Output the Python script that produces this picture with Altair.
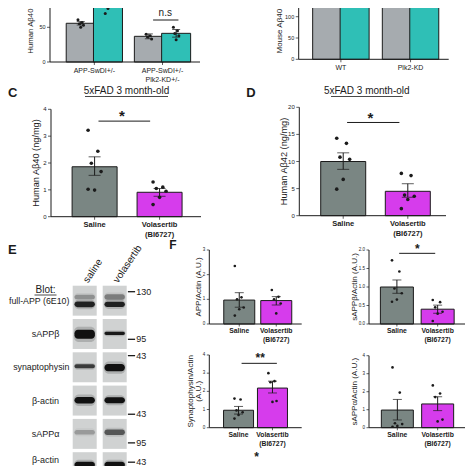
import altair as alt
import pandas as pd

M = 8            # page margin: reference pixel -> view pixel
W = H = 458
FONT = "Liberation Sans"
INK = "#1b1b1b"
GRAY_AB = "#a6abaf"
TEAL_AB = "#2fbfb6"
GRAY_CF = "#7a8683"
MAG = "#d63cec"
BOX = "#d0d2d2"

# ---------------- data ----------------
A_cats = ["APP-SwDI+/-", "APP-SwDI+/-\nPlk2-KD+/-"]
A_gray_mean = [55.8, 37.0]
A_gray_sem = [2.5, 3.5]
A_gray_pts = [[61, 57, 55, 53, 50], [40, 38, 36, 33]]
A_teal_mean = [105.0, 41.3]
A_teal_sem = [11.0, 5.5]
A_teal_pts = [[148, 130, 120, 85, 77, 70], [50, 45, 41, 38, 32]]

B_cats = ["WT", "Plk2-KD"]
B_gray_mean = [165.0, 150.0]
B_gray_sem = [15.0, 18.0]
B_teal_mean = [168.0, 160.0]
B_teal_sem = [14.0, 15.0]

TREAT = ["Saline", "Volasertib\n(BI6727)"]

C_mean = [1.86, 0.91]
C_lo = [1.54, 0.76]
C_hi = [2.23, 1.05]
C_pts = [[3.22, 2.44, 1.99, 1.68, 0.99, 1.02], [1.29, 1.10, 1.05, 0.95, 0.72, 0.45]]

D_mean = [10.0, 4.5]
D_lo = [8.55, 3.4]
D_hi = [11.6, 5.9]
D_pts = [[14.3, 13.35, 10.8, 10.4, 6.7, 4.9], [7.8, 7.4, 3.8, 3.6, 3.0, 1.3]]

F1_mean = [0.97, 0.95]
F1_lo = [0.68, 0.77]
F1_hi = [1.27, 1.11]
F1_pts = [[2.35, 1.08, 1.0, 0.67, 0.6, 0.34], [1.38, 1.1, 1.0, 0.83, 0.43]]

F2_mean = [1.0, 0.4]
F2_lo = [0.83, 0.29]
F2_hi = [1.19, 0.51]
F2_pts = [[1.72, 1.42, 0.96, 0.83, 0.66, 0.6], [0.65, 0.59, 0.45, 0.33, 0.28, 0.08]]

F3_mean = [0.96, 2.18]
F3_lo = [0.75, 1.91]
F3_hi = [1.17, 2.56]
F3_pts = [[1.6, 1.55, 0.95, 0.85, 0.7, 0.5], [3.0, 2.56, 2.5, 1.47, 1.42]]

F4_mean = [0.98, 1.32]
F4_lo = [0.43, 0.95]
F4_hi = [1.57, 1.72]
F4_pts = [[3.35, 1.95, 0.25, 0.2, 0.1, 0.05], [2.35, 1.9, 1.7, 0.45, 0.35]]

# Western blot (panel E)
blot_rows = ["full-APP (6E10)", "sAPPβ", "synaptophysin", "β-actin", "sAPPα", "β-actin"]
blot_lanes = ["saline", "volasertib"]
band_row = [0, 0, 0, 0, 1, 1, 2, 2, 3, 3, 4, 4, 5, 5]
band_lane = [0, 0, 1, 1, 0, 1, 0, 1, 0, 1, 0, 1, 0, 1]
band_pos = [0.56, 0.34, 0.56, 0.34, 0.46, 0.43, 0.42, 0.46, 0.44, 0.44, 0.40, 0.40, 0.38, 0.38]
band_thick = [0.17, 0.14, 0.16, 0.16, 0.27, 0.10, 0.12, 0.22, 0.20, 0.18, 0.14, 0.16, 0.18, 0.18]
band_dark = [0.9, 0.3, 0.9, 0.4, 1.0, 0.95, 0.75, 1.0, 1.0, 1.0, 0.25, 0.6, 1.0, 1.0]
marker_label = ["130", "95", "43", "43", "95", "43"]
marker_pos = [0.18, 1.61, 2.10, 3.86, 4.72, 5.62]


# ---------------- helpers ----------------
def xs_of(g):
    u = g["c1"] - g["c0"]
    return alt.Scale(domain=[(g["ax0"] - g["c0"]) / u, (g["ax1"] - g["c0"]) / u],
                     range=[g["ax0"] - M, g["ax1"] - M], nice=False, zero=False)


def ys_of(g):
    return alt.Scale(domain=[0, g["ymax"]], range=[g["y0"] - M, g["y0"] - M - g["ppu"] * g["ymax"]],
                     nice=False, zero=False)


def panel(g, bars, pts, st, sigs=()):
    xs, ys = xs_of(g), ys_of(g)
    u = g["c1"] - g["c0"]
    xmin = (g["ax0"] - g["c0"]) / u
    xmax = (g["ax1"] - g["c0"]) / u

    def X(f):
        return alt.X(f, scale=xs, axis=None)

    def Y(f):
        return alt.Y(f, scale=ys, axis=None)

    bdf = pd.DataFrame(bars)
    layers = [
        alt.Chart(bdf).mark_bar(width=st["bw"], stroke=INK, strokeWidth=1).encode(
            x=X("pos:Q"), y=Y("mean:Q"), color=alt.Color("color:N", scale=None)),
        alt.Chart(bdf).mark_rule(color=INK, strokeWidth=1).encode(
            x=X("pos:Q"), y=Y("lo:Q"), y2="hi:Q"),
        alt.Chart(bdf).mark_tick(orient="horizontal", size=st["capw"], thickness=1, color=INK).encode(
            x=X("pos:Q"), y=Y("lo:Q")),
        alt.Chart(bdf).mark_tick(orient="horizontal", size=st["capw"], thickness=1, color=INK).encode(
            x=X("pos:Q"), y=Y("hi:Q")),
    ]
    if pts:
        layers.append(
            alt.Chart(pd.DataFrame(pts))
            .transform_calculate(px=f"datum.pos + (((datum.k * 3) % 5) - 2) * {st['jit']}")
            .mark_circle(size=st["ptsize"], color=INK, opacity=1)
            .encode(x=X("px:Q"), y=Y("v:Q")))

    # --- axes drawn through the panel scales ---
    ts = st["tick"]
    dom = pd.DataFrame([dict(x0=xmin, x1=xmax, y0=0, y1=g["ymax"])])
    layers.append(alt.Chart(dom).mark_rule(color=INK, strokeWidth=1).encode(
        x=X("x0:Q"), y=Y("y0:Q"), y2="y1:Q"))
    layers.append(alt.Chart(dom).mark_rule(color=INK, strokeWidth=1).encode(
        x=X("x0:Q"), x2="x1:Q", y=Y("y0:Q")))
    ydf = pd.DataFrame(dict(v=st["yvals"], lab=st["ylabs"]))
    ydf["x"] = xmin
    layers.append(alt.Chart(ydf).mark_tick(orient="horizontal", size=ts, thickness=1, color=INK,
                                           xOffset=-ts / 2).encode(x=X("x:Q"), y=Y("v:Q")))
    layers.append(alt.Chart(ydf).mark_text(font=FONT, fontSize=st["fs_tick"], color=INK, align="right",
                                           baseline="middle", dx=-(ts + 1.5)).encode(
        x=X("x:Q"), y=Y("v:Q"), text="lab:N"))
    titles = st["ytitle"] if isinstance(st["ytitle"], list) else [st["ytitle"]]
    offs = st["toff"] if isinstance(st["toff"], list) else [st["toff"]]
    tdf = pd.DataFrame(dict(t=titles, x=[xmin - o / u for o in offs], y=[st["ty"]] * len(titles)))
    layers.append(alt.Chart(tdf).mark_text(font=FONT, fontSize=st["fs_title"], color=INK, angle=270,
                                           align="center", baseline="middle").encode(
        x=X("x:Q"), y=Y("y:Q"), text="t:N"))
    xdf = pd.DataFrame(dict(pos=list(range(len(st["xcats"]))), lab=st["xcats"]))
    xdf["y"] = 0
    layers.append(alt.Chart(xdf).mark_tick(orient="vertical", size=ts, thickness=1, color=INK,
                                           yOffset=ts / 2).encode(x=X("pos:Q"), y=Y("y:Q")))
    layers.append(alt.Chart(xdf).mark_text(font=FONT, fontSize=st["fs_x"], color=INK,
                                           fontWeight="bold" if st["xbold"] else "normal",
                                           align="center", baseline="top", dy=st["xdy"],
                                           lineBreak="\n", lineHeight=st["lh"]).encode(
        x=X("pos:Q"), y=Y("y:Q"), text="lab:N"))

    for sg in sigs:
        sdf = pd.DataFrame([sg])
        layers.append(alt.Chart(sdf).mark_rule(color=INK, strokeWidth=1).encode(
            x=X("x1:Q"), x2="x2:Q", y=Y("y:Q")))
        layers.append(alt.Chart(sdf).mark_text(font=FONT, fontSize=sg["fs"], fontWeight=sg["fw"],
                                               color=INK, baseline="middle").encode(
            x=X("tx:Q"), y=Y("ty:Q"), text="t:N"))
    return alt.layer(*layers)


def treat_bars(mean, lo, hi):
    return [dict(pos=i, mean=mean[i], lo=lo[i], hi=hi[i], color=c) for i, c in enumerate([GRAY_CF, MAG])]


def treat_pts(pts):
    return [dict(pos=i, k=k, v=v) for i in range(2) for k, v in enumerate(pts[i])]


def grouped_bars(gm, gs, tm, ts, off):
    rows = []
    for i in range(len(gm)):
        rows.append(dict(pos=i - off, mean=gm[i], lo=gm[i] - gs[i], hi=gm[i] + gs[i], color=GRAY_AB))
        rows.append(dict(pos=i + off, mean=tm[i], lo=tm[i] - ts[i], hi=tm[i] + ts[i], color=TEAL_AB))
    return rows


def grouped_pts(gp, tp, off):
    rows = []
    for i in range(len(gp)):
        rows += [dict(pos=i - off, k=k, v=v) for k, v in enumerate(gp[i])]
        rows += [dict(pos=i + off, k=k, v=v) for k, v in enumerate(tp[i])]
    return rows


def fmt_ticks(vals, f="{:g}"):
    return [f.format(v) for v in vals]


panels = []

# ---- Panel A (top cropped) ----
gA = dict(ax0=45, ax1=205, c0=92.3, c1=165, y0=62, ppu=0.694, ymax=150)
yA = [0, 50]
panels.append(panel(
    gA, grouped_bars(A_gray_mean, A_gray_sem, A_teal_mean, A_teal_sem, 0.2),
    grouped_pts(A_gray_pts, A_teal_pts, 0.2),
    dict(bw=29, capw=8, jit=0.02, ptsize=9, tick=3, yvals=yA, ylabs=fmt_ticks(yA), fs_tick=5.5,
         ytitle="Human Aβ40", toff=20, ty=44.5, fs_title=7.8, xcats=A_cats, fs_x=7, xbold=False,
         xdy=5.3, lh=9),
    sigs=[dict(x1=0.862, x2=1.234, y=60.5, tx=1.041, ty=70.6, t="n.s", fs=10, fw="normal")]))

# ---- Panel B (top cropped) ----
gB = dict(ax0=293.7, ax1=453.7, c0=338.7, c1=413, y0=59.3, ppu=0.426, ymax=200)
yB = [0, 50, 100]
panels.append(panel(
    gB, grouped_bars(B_gray_mean, B_gray_sem, B_teal_mean, B_teal_sem, 0.197), [],
    dict(bw=29, capw=8, jit=0.02, ptsize=9, tick=3, yvals=yB, ylabs=fmt_ticks(yB), fs_tick=5.5,
         ytitle="Mouse Aβ40", toff=20, ty=66, fs_title=8, xcats=B_cats, fs_x=7, xbold=False,
         xdy=5, lh=9)))

# ---- Panel C ----
gC = dict(ax0=46, ax1=206, c0=92.5, c1=161.8, y0=216.7, ppu=26.85, ymax=4)
yC = [0, 1, 2, 3, 4]
panels.append(panel(
    gC, treat_bars(C_mean, C_lo, C_hi), treat_pts(C_pts),
    dict(bw=45, capw=12, jit=0.05, ptsize=13, tick=3, yvals=yC, ylabs=fmt_ticks(yC), fs_tick=6,
         ytitle="Human Aβ40 (ng/mg)", toff=15.5, ty=2, fs_title=9.2, xcats=TREAT, fs_x=7.5,
         xbold=True, xdy=4.5, lh=9.5),
    sigs=[dict(x1=0.06, x2=0.855, y=3.56, tx=0.42, ty=3.74, t="*", fs=15, fw="bold")]))

# ---- Panel D ----
gD = dict(ax0=294.3, ax1=451, c0=341.2, c1=410.2, y0=215.7, ppu=5.42, ymax=20)
yD = [0, 5, 10, 15, 20]
panels.append(panel(
    gD, treat_bars(D_mean, D_lo, D_hi), treat_pts(D_pts),
    dict(bw=45, capw=12, jit=0.05, ptsize=13, tick=3, yvals=yD, ylabs=fmt_ticks(yD), fs_tick=6,
         ytitle="Human Aβ42 (ng/mg)", toff=16.5, ty=10, fs_title=9.2, xcats=TREAT, fs_x=7.5,
         xbold=True, xdy=4.5, lh=9.5),
    sigs=[dict(x1=0.06, x2=0.87, y=17.2, tx=0.42, ty=18.0, t="*", fs=15, fw="bold")]))

# ---- Panel F (four small charts) ----
fst = dict(capw=9, jit=0.06, ptsize=7, tick=2.5, fs_tick=4.5, fs_title=8, xcats=TREAT, fs_x=6.8,
           xbold=True, xdy=4, lh=9)

gF1 = dict(ax0=204.3, ax1=306.7, c0=237.5, c1=278.5, y0=324, ppu=24.67, ymax=3)
yF1 = [0, 1, 2, 3]
panels.append(panel(
    gF1, treat_bars(F1_mean, F1_lo, F1_hi), treat_pts(F1_pts),
    dict(fst, bw=31, yvals=yF1, ylabs=fmt_ticks(yF1), ytitle="APP/Actin (A.U.)", toff=11, ty=1.5)))

gF2 = dict(ax0=364, ax1=470, c0=394.8, c1=439.8, y0=324, ppu=37, ymax=2.0)
yF2 = [0, 0.5, 1.0, 1.5, 2.0]
panels.append(panel(
    gF2, treat_bars(F2_mean, F2_lo, F2_hi), treat_pts(F2_pts),
    dict(fst, bw=33, yvals=yF2, ylabs=fmt_ticks(yF2, "{:.1f}"), ytitle="sAPPβ/Actin (A.U.)",
         toff=15.5, ty=1.0),
    sigs=[dict(x1=0.056, x2=0.94, y=1.91, tx=0.5, ty=2.03, t="*", fs=12, fw="bold")]))

gF3 = dict(ax0=204.3, ax1=306.7, c0=236.7, c1=274.3, y0=427.7, ppu=18.18, ymax=4)
yF3 = [0, 1, 2, 3, 4]
panels.append(panel(
    gF3, treat_bars(F3_mean, F3_lo, F3_hi), treat_pts(F3_pts),
    dict(fst, bw=30, yvals=yF3, ylabs=fmt_ticks(yF3), ytitle=["Synaptophysin/Actin", "(A.U.)"],
         toff=[20.5, 11.5], ty=2.0),
    sigs=[dict(x1=0.09, x2=1.13, y=3.54, tx=0.64, ty=3.86, t="**", fs=12, fw="bold")]))

gF4 = dict(ax0=364, ax1=470, c0=395.3, c1=439.8, y0=427.7, ppu=18, ymax=4)
yF4 = [0, 1, 2, 3, 4]
panels.append(panel(
    gF4, treat_bars(F4_mean, F4_lo, F4_hi), treat_pts(F4_pts),
    dict(fst, bw=32, yvals=yF4, ylabs=fmt_ticks(yF4), ytitle="sAPPα/Actin (A.U.)", toff=15, ty=2.0)))

# ---- Panel E : western blot ----
bx = alt.Scale(domain=[-3, 2], range=[84.7 - 90 - M, 84.7 + 60 - M], nice=False, zero=False)
by = alt.Scale(domain=[0, 6], range=[285.7 - M, 285.7 + 6 * 33.3 - M], nice=False, zero=False)

box_df = pd.DataFrame([dict(row=r, lane=l) for r in range(len(blot_rows)) for l in range(len(blot_lanes))])
band_df = pd.DataFrame(dict(row=band_row, lane=band_lane, pos=band_pos, th=band_thick, dark=band_dark))
rowlab_df = pd.DataFrame(dict(row=list(range(len(blot_rows))), label=blot_rows))
lane_df = pd.DataFrame(dict(lane=list(range(len(blot_lanes))), label=blot_lanes))
mk_df = pd.DataFrame(dict(y=marker_pos, label=marker_label))


def BX(f):
    return alt.X(f, scale=bx, axis=None)


def BY(f):
    return alt.Y(f, scale=by, axis=None)


rowlab_base = alt.Chart(rowlab_df).transform_calculate(
    n="length(datum.label)", ly="min(datum.row + 0.45, 5.22)", cx="-1.307", rx="-0.51")

blot = alt.layer(
    alt.Chart(box_df).transform_calculate(
        x1="datum.lane - 0.4", x2="datum.lane + 0.4", y1="datum.row", y2="datum.row + 0.9"
    ).mark_rect(color=BOX).encode(x=BX("x1:Q"), x2="x2:Q", y=BY("y1:Q"), y2="y2:Q"),
    alt.Chart(band_df).transform_calculate(
        x1="datum.lane - 0.36", x2="datum.lane + 0.36",
        y1="datum.row + datum.pos - datum.th * 0.85", y2="datum.row + datum.pos + datum.th * 0.85",
        op="datum.dark * 0.22"
    ).mark_rect(color="#333333", cornerRadius=5).encode(
        x=BX("x1:Q"), x2="x2:Q", y=BY("y1:Q"), y2="y2:Q", opacity=alt.Opacity("op:Q", scale=None)),
    alt.Chart(band_df).transform_calculate(
        x1="datum.lane - 0.34", x2="datum.lane + 0.34",
        y1="datum.row + datum.pos - datum.th / 2", y2="datum.row + datum.pos + datum.th / 2",
    ).mark_rect(color="#111111", cornerRadius=3.5).encode(
        x=BX("x1:Q"), x2="x2:Q", y=BY("y1:Q"), y2="y2:Q", opacity=alt.Opacity("dark:Q", scale=None)),
    rowlab_base.transform_filter("datum.n <= 8").mark_text(
        font=FONT, fontSize=9, color=INK, baseline="middle", align="center").encode(
        x=BX("cx:Q"), y=BY("ly:Q"), text="label:N"),
    rowlab_base.transform_filter("datum.n > 8").mark_text(
        font=FONT, fontSize=8.8, color=INK, baseline="middle", align="right").encode(
        x=BX("rx:Q"), y=BY("ly:Q"), text="label:N"),
    alt.Chart(lane_df).transform_calculate(lx="datum.lane + 0.03", ly="-0.12").mark_text(
        font=FONT, fontSize=10, color=INK, angle=304, align="left", baseline="middle").encode(
        x=BX("lx:Q"), y=BY("ly:Q"), text="label:N"),
    alt.Chart(mk_df).transform_calculate(a="1.44", b="1.68", yy="min(datum.y, 5.3)").mark_rule(
        color=INK, strokeWidth=1.3).encode(x=BX("a:Q"), x2="b:Q", y=BY("yy:Q")),
    alt.Chart(mk_df).transform_calculate(lx="1.72", yy="min(datum.y, 5.3)").mark_text(
        font=FONT, fontSize=9, color=INK, align="left", baseline="middle").encode(
        x=BX("lx:Q"), y=BY("yy:Q"), text="label:N"),
)
panels.append(blot)


# ---- layout texts (panel letters, titles) ----
def txt(rows, size, weight="normal", align="center", baseline="middle"):
    df = pd.DataFrame(rows, columns=["t", "px", "py"])
    df["px"] = df["px"] - M
    df["py"] = df["py"] - M
    return alt.Chart(df).mark_text(font=FONT, fontSize=size, fontWeight=weight, align=align,
                                   baseline=baseline, color=INK).encode(
        x=alt.X("px:Q", scale=None), y=alt.Y("py:Q", scale=None), text="t:N")


def uline(rows):
    df = pd.DataFrame(rows, columns=["a", "b", "py"])
    df[["a", "b", "py"]] = df[["a", "b", "py"]] - M
    return alt.Chart(df).mark_rule(color=INK, strokeWidth=0.8).encode(
        x=alt.X("a:Q", scale=None), x2="b:Q", y=alt.Y("py:Q", scale=None))


panels.append(txt([["C", 8, 93], ["E", 8, 250]], 13, "bold", align="left"))
panels.append(txt([["D", 251, 93]], 13, "bold"))
panels.append(txt([["F", 173, 245]], 12, "bold"))
panels.append(txt([["5xFAD 3 month-old", 126.5, 91], ["5xFAD 3 month-old", 366.8, 91],
                   ["Blot:", 45.5, 290]], 10))
panels.append(uline([[85, 168, 96.5], [331, 402.7, 96.5], [34.5, 56.5, 295]]))
panels.append(txt([["*", 256.7, 457]], 12, "bold"))

chart = alt.layer(*panels).resolve_scale(x="independent", y="independent").properties(
    width=W, height=H, padding=0, autosize=alt.AutoSizeParams(type="none"),
    background="white",
).configure_view(stroke=None)

chart.save("out.html", embed_options={"renderer": "svg", "actions": False})
